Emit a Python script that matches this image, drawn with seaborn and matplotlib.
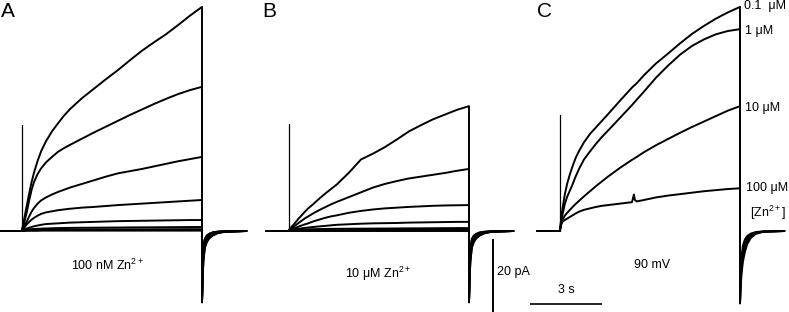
import matplotlib
matplotlib.use("Agg")
import matplotlib.pyplot as plt
import numpy as np
import pandas as pd
import seaborn as sns

# ---------------- data (time in s, current in pA) ----------------
T_PRE = [-0.95, 0.0]
T_STEP = [0, 0.05, 0.1, 0.2, 0.3, 0.4, 0.5, 0.65, 0.8, 1.0, 1.25, 1.5, 1.75, 2.0,
          2.5, 3.0, 3.5, 4.0, 4.5, 5.0, 5.5, 6.0, 6.5, 7.0, 7.5]
T_STEP_C = [0, 0.05, 0.1, 0.2, 0.3, 0.4, 0.5, 0.65, 0.8, 1.0, 1.25, 1.5, 1.75, 2.0,
            2.5, 3.0, 3.08, 3.12, 3.2, 3.5, 4.0, 4.5, 5.0, 5.5, 6.0, 6.5, 7.0, 7.5]
T_TAIL = [7.5, 7.52, 7.56, 7.62, 7.7, 7.8, 7.95, 8.15, 8.45, 9.35]

# Panel A: 100 nM Zn2+, family of depolarisations
A_I1 = [0.3, 1.8, 3.6, 7.0, 10.3, 13.4, 16.0, 19.2, 21.9, 24.6, 27.3, 29.5, 31.6, 33.4,
        36.4, 39.0, 41.6, 44.1, 46.8, 49.4, 51.7, 53.9, 56.4, 59.0, 61.4]
A_I2 = [0.3, 1.2, 2.5, 5.2, 8.4, 11.3, 13.4, 15.6, 17.2, 18.8, 20.3, 21.7, 22.7, 23.6,
        25.3, 27.0, 28.6, 30.2, 31.8, 33.3, 34.8, 36.2, 37.5, 38.6, 39.5]
A_I3 = [0.3, 0.8, 1.4, 2.6, 4.0, 5.3, 6.3, 7.5, 8.4, 9.2, 10.0, 10.7, 11.3, 11.9,
        12.9, 13.9, 14.9, 15.8, 16.4, 17.0, 17.7, 18.4, 19.1, 19.7, 20.3]
A_I4 = [0.3, 0.6, 1.0, 1.8, 2.5, 3.1, 3.6, 4.2, 4.7, 5.1, 5.4, 5.7, 5.9, 6.1,
        6.4, 6.6, 6.85, 7.1, 7.3, 7.5, 7.7, 7.9, 8.1, 8.3, 8.5]
A_I5 = [0.3, 0.4, 0.5, 0.7, 0.9, 1.1, 1.3, 1.5, 1.7, 1.9, 2.0, 2.1, 2.2, 2.3,
        2.4, 2.5, 2.6, 2.7, 2.75, 2.8, 2.85, 2.9, 2.95, 3.0, 3.0]
A_I6 = [0.3, 0.3, 0.35, 0.4, 0.45, 0.5, 0.55, 0.6, 0.65, 0.7, 0.75, 0.8, 0.82, 0.85,
        0.88, 0.9, 0.93, 0.95, 0.98, 1.0, 1.02, 1.04, 1.06, 1.08, 1.1]
A_I7 = [0.2, 0.2, 0.25, 0.25, 0.3, 0.3, 0.3, 0.3, 0.35, 0.35, 0.35, 0.4, 0.4, 0.4,
        0.4, 0.42, 0.44, 0.45, 0.45, 0.46, 0.47, 0.48, 0.49, 0.5, 0.5]
A_I8 = [0.0, 0.0, 0.0, 0.05, 0.05, 0.05, 0.05, 0.05, 0.1, 0.1, 0.1, 0.1, 0.1, 0.1,
        0.1, 0.1, 0.1, 0.1, 0.1, 0.1, 0.1, 0.1, 0.1, 0.1, 0.1]
A_SPIKE = 29.0

# Panel B: 10 uM Zn2+
B_I1 = [0.3, 0.7, 1.1, 1.8, 2.6, 3.4, 4.1, 5.2, 6.2, 7.3, 8.8, 10.2, 11.5, 12.8,
        16.0, 19.6, 21.2, 23.0, 25.1, 27.3, 29.0, 30.6, 31.9, 33.2, 34.2]
B_I2 = [0.3, 0.5, 0.7, 1.2, 1.7, 2.2, 2.7, 3.4, 4.0, 4.8, 5.7, 6.5, 7.3, 8.0,
        9.3, 10.6, 11.9, 12.9, 13.7, 14.4, 14.9, 15.4, 15.9, 16.5, 17.0]
B_I3 = [0.3, 0.35, 0.45, 0.7, 0.95, 1.2, 1.45, 1.8, 2.1, 2.6, 3.1, 3.6, 4.0, 4.3,
        5.0, 5.5, 5.9, 6.2, 6.4, 6.6, 6.75, 6.9, 7.0, 7.05, 7.1]
B_I4 = [0.3, 0.32, 0.35, 0.4, 0.5, 0.6, 0.7, 0.85, 0.95, 1.1, 1.25, 1.4, 1.55, 1.7,
        1.85, 2.0, 2.1, 2.15, 2.2, 2.3, 2.35, 2.4, 2.45, 2.5, 2.5]
B_I5 = [0.2, 0.22, 0.25, 0.3, 0.33, 0.36, 0.4, 0.43, 0.46, 0.5, 0.53, 0.56, 0.58, 0.6,
        0.62, 0.64, 0.66, 0.68, 0.7, 0.72, 0.74, 0.76, 0.78, 0.8, 0.8]
B_I6 = [0.1, 0.1, 0.1, 0.12, 0.14, 0.15, 0.16, 0.18, 0.2, 0.2, 0.21, 0.22, 0.23, 0.24,
        0.25, 0.26, 0.27, 0.28, 0.28, 0.29, 0.29, 0.3, 0.3, 0.3, 0.3]
B_I7 = [0.0, 0.0, 0.0, 0.0, 0.0, 0.0, 0.0, 0.0, 0.0, 0.0, 0.0, 0.0, 0.0, 0.0,
        0.0, 0.0, 0.0, 0.0, 0.0, 0.0, 0.0, 0.0, 0.0, 0.0, 0.0]
B_SPIKE = 29.3

# Panel C: +90 mV at different [Zn2+]
C_CONC = ["0.1  \u03bcM", "1 \u03bcM", "10 \u03bcM", "100 \u03bcM"]
C_I1 = [0.3, 3.5, 6.0, 10.0, 13.0, 15.3, 17.3, 20.0, 22.0, 24.3, 26.6, 28.4, 30.2, 32.0,
        35.7, 39.3, 39.8, 40.0, 40.5, 42.7, 45.9, 48.6, 51.4, 54.0, 56.2, 58.2, 59.9, 61.4]
C_I2 = [0.3, 2.5, 4.4, 7.4, 9.4, 10.9, 12.4, 14.9, 17.1, 19.6, 21.8, 23.9, 25.8, 27.5,
        31.0, 34.5, 35.1, 35.4, 36.0, 38.2, 42.0, 45.3, 48.3, 50.7, 52.5, 53.9, 54.8, 55.3]
C_I3 = [0.3, 1.8, 3.0, 4.2, 5.0, 5.7, 6.4, 7.4, 8.3, 9.5, 10.9, 12.3, 13.6, 14.9,
        17.3, 19.5, 19.8, 20.0, 20.3, 21.6, 23.5, 25.2, 26.9, 28.5, 30.0, 31.5, 33.0, 34.2]
C_I4 = [0.3, 1.8, 2.5, 3.0, 3.4, 3.8, 4.2, 4.8, 5.3, 5.8, 6.2, 6.6, 6.9, 7.1,
        7.5, 7.9, 10.0, 8.5, 8.1, 8.5, 9.2, 9.7, 10.1, 10.5, 10.9, 11.2, 11.5, 11.7]
C_SPIKE = 31.8

# tail currents after repolarisation
TAIL_FAST = [-19.5, -10.0, -4.5, -2.2, -1.3, -0.8, -0.4, -0.2, -0.05, 0.0]
TAIL_MID = [-19.5, -12.0, -6.0, -3.2, -2.0, -1.3, -0.8, -0.4, -0.15, 0.0]
TAIL_SLOW = [-19.5, -13.5, -8.0, -4.5, -3.0, -2.0, -1.2, -0.6, -0.2, 0.0]
C_TAIL_1 = [-19.8, -13.0, -7.5, -4.0, -2.4, -1.4, -0.7, -0.3, -0.1, 0.0]
C_TAIL_2 = [-19.8, -14.5, -9.0, -5.5, -3.4, -2.0, -1.0, -0.45, -0.15, 0.0]
C_TAIL_3 = [-19.8, -15.5, -10.5, -7.0, -4.5, -2.8, -1.4, -0.6, -0.2, 0.0]
C_TAIL_4 = [-19.8, -16.5, -12.0, -8.5, -5.8, -3.6, -1.9, -0.8, -0.25, 0.0]

# ---------------- styling ----------------
sns.set_theme(style="white")
plt.rcParams["font.family"] = ["Liberation Sans", "DejaVu Sans"]
plt.rcParams["mathtext.fontset"] = "custom"
plt.rcParams["mathtext.rm"] = "Liberation Sans"
plt.rcParams["mathtext.it"] = "Liberation Sans:italic"
plt.rcParams["mathtext.bf"] = "Liberation Sans:bold"

W, H = 789, 312
PX_PER_S = 24.0
PX_PER_PA = 3.65
BASE_Y = 231.0
YLIM = ((BASE_Y - H) / PX_PER_PA, BASE_Y / PX_PER_PA)

fig = plt.figure(figsize=(W / 100, H / 100), dpi=100)
fig.patch.set_facecolor("white")


def make_ax(x0, x1, t0):
    ax = fig.add_axes([x0 / W, 0, (x1 - x0) / W, 1])
    ax.set_xlim((x0 - t0) / PX_PER_S, (x1 - t0) / PX_PER_S)
    ax.set_ylim(*YLIM)
    ax.axis("off")
    return ax


def build(step_t, traces, tails):
    rows = []
    for k, (vals, tail) in enumerate(zip(traces, tails)):
        t = T_PRE + list(step_t) + T_TAIL
        i = [0.0, 0.0] + list(vals) + list(tail)
        for tt, ii in zip(t, i):
            rows.append({"trace": k, "t": tt, "I": ii})
    return pd.DataFrame(rows)


def draw(ax, df, spike):
    sns.lineplot(data=df, x="t", y="I", units="trace", estimator=None,
                 sort=False, color="black", lw=1.4, ax=ax, legend=False)
    sdf = pd.DataFrame({"t": [0.0, 0.0], "I": [0.0, spike]})
    sns.lineplot(data=sdf, x="t", y="I", estimator=None, sort=False,
                 color="black", lw=0.9, ax=ax)
    ax.axis("off")


axA = make_ax(0, 262, 22)
axB = make_ax(262, 530, 289)
axC = make_ax(530, 789, 560)

dfA = build(T_STEP, [A_I1, A_I2, A_I3, A_I4, A_I5, A_I6, A_I7, A_I8],
            [TAIL_SLOW, TAIL_MID, TAIL_FAST, TAIL_MID, TAIL_SLOW, TAIL_FAST, TAIL_MID, TAIL_FAST])
dfB = build(T_STEP, [B_I1, B_I2, B_I3, B_I4, B_I5, B_I6, B_I7],
            [TAIL_SLOW, TAIL_MID, TAIL_FAST, TAIL_MID, TAIL_SLOW, TAIL_FAST, TAIL_MID])
dfC = build(T_STEP_C, [C_I1, C_I2, C_I3, C_I4], [C_TAIL_1, C_TAIL_2, C_TAIL_3, C_TAIL_4])

draw(axA, dfA, A_SPIKE)
draw(axB, dfB, B_SPIKE)
draw(axC, dfC, C_SPIKE)

# scale bars: 20 pA and 3 s
axB.plot([8.5, 8.5], [YLIM[0], YLIM[0] + 20], color="black", lw=1.4,
         clip_on=False, solid_capstyle="butt")
axC.plot([-1.25, 1.75], [-20.0, -20.0], color="black", lw=1.2,
         clip_on=False, solid_capstyle="butt")


def ftext(x, y, s, size=9, ha="left", va="center", **kw):
    fig.text(x / W, 1 - y / H, s, fontsize=size, ha=ha, va=va, color="black", **kw)


# panel letters
ftext(1, 2, "A", size=15, va="top")
ftext(262, 2, "B", size=15, va="top")
ftext(537, 2, "C", size=15, va="top")

# condition labels
ftext(107, 265, "100 nM Zn$^{2+}$", ha="center")
ftext(378, 274, "10 \u03bcM Zn$^{2+}$", ha="center")
ftext(652, 265, "90 mV", ha="center")
ftext(497, 272, "20 pA")
ftext(566, 290, "3 s", ha="center")

# concentration labels in panel C
conc_x = [786, 773, 780, 788]
conc_y = [6, 31, 108, 188]
for lab, xx, yy in zip(C_CONC, conc_x, conc_y):
    ftext(xx, yy, lab, ha="right")
ftext(786, 213, "[Zn$^{2+}$]", ha="right")

fig.savefig("out.png", dpi=100, facecolor="white")
